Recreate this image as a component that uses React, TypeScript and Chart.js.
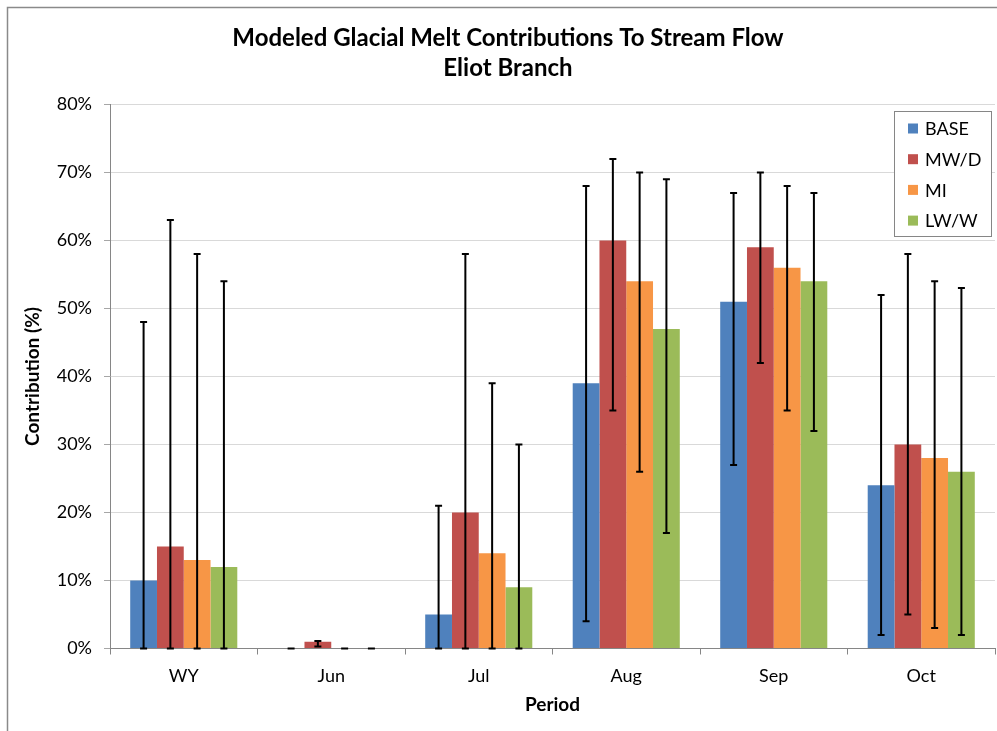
import React, { useEffect, useRef } from "react";
import { Chart, registerables } from "chart.js";

Chart.register(...registerables);

// ---- data ----
const periods = ["WY", "Jun", "Jul", "Aug", "Sep", "Oct"];
const seriesNames = ["BASE", "MW/D", "MI", "LW/W"];
const seriesColors = ["#4F81BD", "#C0504D", "#F79646", "#9BBB59"];

const baseValues = [10, 0, 5, 39, 51, 24];
const mwdValues = [15, 1, 20, 60, 59, 30];
const miValues = [13, 0, 14, 54, 56, 28];
const lwwValues = [12, 0, 9, 47, 54, 26];

const baseLow = [0, 0, 0, 4, 27, 2];
const baseHigh = [48, 0, 21, 68, 67, 52];
const mwdLow = [0, 0.3, 0, 35, 42, 5];
const mwdHigh = [63, 1.1, 58, 72, 70, 58];
const miLow = [0, 0, 0, 26, 35, 3];
const miHigh = [58, 0, 39, 70, 68, 54];
const lwwLow = [0, 0, 0, 17, 32, 2];
const lwwHigh = [54, 0, 30, 69, 67, 53];

const yMin = 0;
const yMax = 80;
const yStep = 10;

const titleLines = ["Modeled Glacial Melt Contributions To Stream Flow", "Eliot Branch"];
const yTitle = "Contribution (%)";
const xTitle = "Period";

const FONT = "Lato, 'Open Sans', sans-serif";

const errorBarPlugin = {
  id: "errorBars",
  afterDatasetsDraw(chart: any) {
    const ctx = chart.ctx;
    const yScale = chart.scales.y;
    ctx.save();
    ctx.strokeStyle = "#000000";
    ctx.lineWidth = 2;
    chart.data.datasets.forEach((ds: any, i: number) => {
      const meta = chart.getDatasetMeta(i);
      meta.data.forEach((el: any, j: number) => {
        const x = el.x;
        const yl = yScale.getPixelForValue(ds.errLow[j]);
        const yh = yScale.getPixelForValue(ds.errHigh[j]);
        const cap = 3.5;
        ctx.beginPath();
        ctx.moveTo(x, yl);
        ctx.lineTo(x, yh);
        ctx.moveTo(x - cap, yh);
        ctx.lineTo(x + cap, yh);
        ctx.moveTo(x - cap, yl);
        ctx.lineTo(x + cap, yl);
        ctx.stroke();
      });
    });
    ctx.restore();
  },
};

const framePlugin = {
  id: "frameAndLegend",
  beforeDraw(chart: any) {
    const ctx = chart.ctx;
    ctx.save();
    ctx.fillStyle = "#ffffff";
    ctx.fillRect(0, 0, chart.width, chart.height);
    ctx.restore();
  },
  afterDraw(chart: any) {
    const ctx = chart.ctx;
    ctx.save();
    // outer frame (top and left visible)
    ctx.strokeStyle = "#8a8a8a";
    ctx.lineWidth = 1.5;
    ctx.beginPath();
    ctx.moveTo(7.5, chart.height);
    ctx.lineTo(7.5, 7.5);
    ctx.lineTo(chart.width, 7.5);
    ctx.stroke();

    // chart title
    ctx.fillStyle = "#000000";
    ctx.font = `bold 24px ${FONT}`;
    ctx.textAlign = "center";
    ctx.textBaseline = "middle";
    titleLines.forEach((line, i) => {
      ctx.fillText(line, 508, 38 + i * 30);
    });

    // legend box
    const bx = 894.5, by = 111.5, bw = 97, bh = 125;
    ctx.fillStyle = "#ffffff";
    ctx.fillRect(bx, by, bw, bh);
    ctx.strokeStyle = "#868686";
    ctx.lineWidth = 1;
    ctx.strokeRect(bx, by, bw, bh);
    ctx.font = `18px ${FONT}`;
    ctx.textBaseline = "middle";
    ctx.textAlign = "left";
    chart.data.datasets.forEach((ds: any, i: number) => {
      const cy = 128.5 + i * 30.7;
      ctx.fillStyle = ds.backgroundColor;
      ctx.fillRect(908, cy - 5, 10, 10);
      ctx.fillStyle = "#000000";
      ctx.fillText(ds.label, 925, cy + 1);
    });
    ctx.restore();
  },
};

export default function App() {
  const ref = useRef<HTMLCanvasElement | null>(null);

  useEffect(() => {
    if (!ref.current) return;
    const valueSets = [baseValues, mwdValues, miValues, lwwValues];
    const lowSets = [baseLow, mwdLow, miLow, lwwLow];
    const highSets = [baseHigh, mwdHigh, miHigh, lwwHigh];
    const chart = new Chart(ref.current, {
      type: "bar",
      data: {
        labels: periods,
        datasets: seriesNames.map((name, i) => ({
          label: name,
          data: valueSets[i],
          backgroundColor: seriesColors[i],
          borderWidth: 0,
          categoryPercentage: 0.726,
          barPercentage: 1,
          errLow: lowSets[i],
          errHigh: highSets[i],
        })) as any,
      },
      options: {
        responsive: false,
        animation: false,
        devicePixelRatio: 1,
        layout: { padding: { top: 104.5, left: 0, right: 2, bottom: 0 } },
        plugins: {
          legend: { display: false },
          tooltip: { enabled: false },
          title: { display: false },
        },
        scales: {
          x: {
            grid: {
              display: true,
              drawOnChartArea: false,
              drawTicks: true,
              tickLength: 6,
              offset: true,
              color: "#868686",
            },
            border: { display: true, color: "#868686", width: 1 },
            ticks: {
              color: "#000000",
              font: { family: FONT, size: 18 },
              padding: 10.7,
            },
            title: {
              display: true,
              text: xTitle,
              color: "#000000",
              font: { family: FONT, size: 19, weight: "bold" },
              padding: { top: 0, bottom: 14.6 },
            },
            afterFit(scale: any) {
              scale.height = 82.5;
            },
          },
          y: {
            min: yMin,
            max: yMax,
            grid: {
              color: "#d9d9d9",
              lineWidth: 1,
              tickLength: 6,
              tickColor: "#a6a6a6",
            },
            border: { display: true, color: "#868686", width: 1 },
            ticks: {
              stepSize: yStep,
              color: "#000000",
              font: { family: FONT, size: 18 },
              padding: 12,
              callback: (v: any) => `${v}%`,
            },
            title: {
              display: true,
              text: yTitle,
              color: "#000000",
              font: { family: FONT, size: 19, weight: "bold" },
              padding: { top: 21.6, bottom: 0 },
            },
            afterFit(scale: any) {
              scale.width = 110;
            },
          },
        },
      },
      plugins: [framePlugin, errorBarPlugin],
    });
    return () => chart.destroy();
  }, []);

  return (
    <div style={{ position: "fixed", left: 0, top: 0, width: 997, height: 731 }}>
      <canvas ref={ref} width={997} height={731} style={{ width: 997, height: 731, display: "block" }} />
    </div>
  );
}
